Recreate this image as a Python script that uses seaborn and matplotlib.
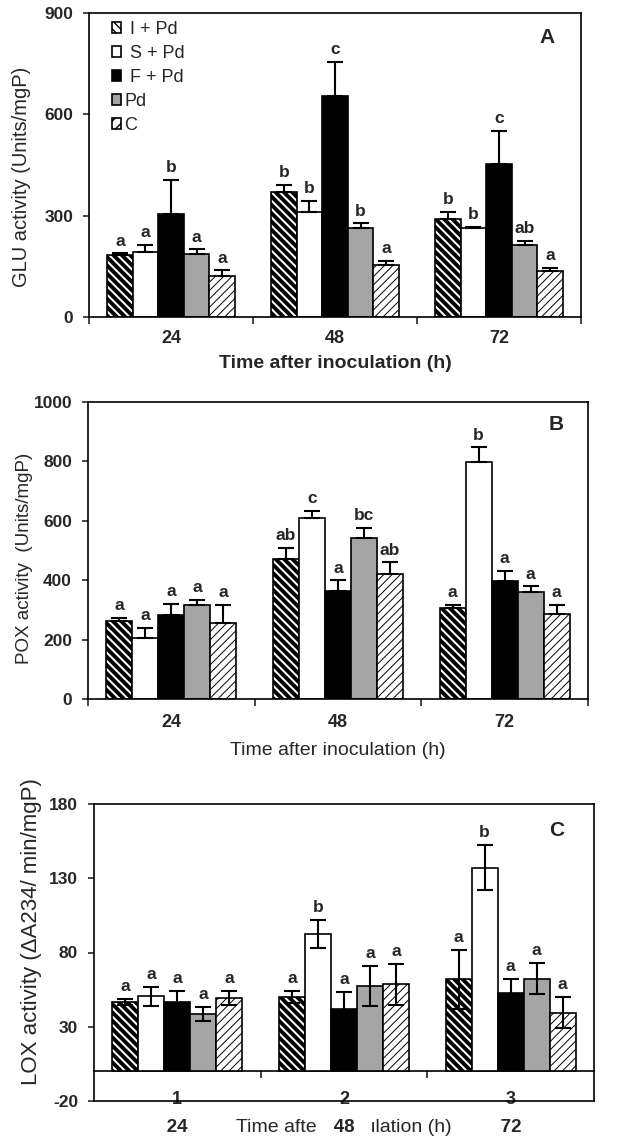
import numpy as np
import pandas as pd
import matplotlib
matplotlib.use("Agg")
import matplotlib.pyplot as plt
import matplotlib.patches as mpatches
import seaborn as sns

# data (rows = treatment, cols = time)
times = ["24", "48", "72"]
treatments = [" I + Pd", " S + Pd", " F + Pd", "Pd", "C"]

glu_means = [[183, 369, 289], [191, 310, 264], [306, 653, 453], [186, 264, 214], [121, 153, 136]]
glu_err = [[5, 22, 22], [22, 33, 3], [99, 102, 99], [14, 13, 10], [17, 14, 9]]
glu_letters = [["a", "b", "b"], ["a", "b", "b"], ["b", "c", "c"], ["a", "b", "ab"], ["a", "a", "a"]]

pox_means = [[261, 473, 307], [207, 609, 797], [284, 365, 397], [317, 542, 361], [255, 420, 285]]
pox_err = [[13, 35, 10], [31, 24, 50], [35, 34, 34], [17, 33, 18], [62, 40, 32]]
pox_letters = [["a", "ab", "a"], ["a", "c", "b"], ["a", "a", "a"], ["a", "bc", "a"], ["a", "ab", "a"]]

lox_means = [[46.7, 50, 62], [50.5, 92.7, 137.2], [46.5, 41.7, 52.5], [38.6, 57.7, 62.4], [49.4, 58.6, 39.5]]
lox_err = [[2, 4, 19.8], [6.5, 9.5, 15], [7.5, 11.5, 9.5], [5, 13.5, 10.5], [5, 13.7, 10.3]]
lox_letters = [["a", "a", "a"], ["a", "b", "b"], ["a", "a", "a"], ["a", "a", "a"], ["a", "a", "a"]]

fills = {" I + Pd": "white", " S + Pd": "white", " F + Pd": "black", "Pd": "#a5a5a5", "C": "white"}
hatches = ["\\\\\\\\", "", "", "", "////"]
hatch_lw = [2.8, 1, 1, 1, 0.7]

sns.set_style("ticks")
plt.rcParams["font.family"] = ["Liberation Sans", "DejaVu Sans"]
plt.rcParams["axes.edgecolor"] = "black"
plt.rcParams["axes.linewidth"] = 1.2
plt.rcParams["axes.unicode_minus"] = False
plt.rcParams["hatch.linewidth"] = 1.0

fig = plt.figure(figsize=(6.18, 11.43), dpi=100)


def px(l, t, r, b):
    return [l / 618, 1 - b / 1143, (r - l) / 618, (b - t) / 1143]


def draw(ax, means, errs, letters, two_sided):
    df = pd.DataFrame({
        "time": np.tile(times, len(treatments)),
        "treat": np.repeat(treatments, len(times)),
        "value": np.ravel(means),
    })
    sns.barplot(data=df, x="time", y="value", hue="treat", order=times, hue_order=treatments,
                palette=fills, saturation=1, width=0.78, gap=0, errorbar=None,
                edgecolor="black", linewidth=1.2, legend=False, ax=ax)
    bars = list(ax.containers)
    for i, cont in enumerate(bars):
        xs = [p.get_x() + p.get_width() / 2 for p in cont]
        hs = [p.get_height() for p in cont]
        for p in cont:
            p.set_hatch(hatches[i])
            if hasattr(p, "set_hatch_linewidth"):
                p.set_hatch_linewidth(hatch_lw[i])
        lower = errs[i] if two_sided else [0] * len(xs)
        ax.errorbar(xs, hs, yerr=[lower, errs[i]], fmt="none", ecolor="black",
                    elinewidth=1.5, capsize=5.5, capthick=1.5, zorder=3)
        for x, h, e, t in zip(xs, hs, errs[i], letters[i]):
            ax.annotate(t, (x, h + e), xytext=(0, 3.5), textcoords="offset points",
                        ha="center", va="bottom", fontsize=12.5, fontweight="bold")
    ax.set_xlim(-0.5, 2.5)
    ax.tick_params(axis="y", direction="out", length=4.5, width=1.2, pad=7, labelsize=12.5)


# panel A
ax_a = fig.add_axes(px(89, 13, 581, 317))
draw(ax_a, glu_means, glu_err, glu_letters, False)
ax_a.set_ylim(0, 900)
ax_a.set_yticks([0, 300, 600, 900])
ax_a.set_xticks([0, 1, 2], times, fontsize=13, fontweight="bold")
ax_a.set_xticks([-0.5, 0.5, 1.5, 2.5], minor=True)
ax_a.tick_params(axis="x", which="major", length=0, pad=9.5)
ax_a.tick_params(axis="x", which="minor", length=5, width=1.2)
for lab in ax_a.get_yticklabels():
    lab.set_fontweight("bold")
ax_a.set_xlabel("Time after inoculation (h)", fontsize=14, fontweight="bold")
ax_a.xaxis.set_label_coords(0.5, -0.125)
ax_a.set_ylabel("GLU activity (Units/mgP)", fontsize=14.5)
ax_a.yaxis.set_label_coords(-0.118, 0.46)
ax_a.text(0.931, 0.918, "A", transform=ax_a.transAxes, fontsize=15, fontweight="bold",
          ha="center", va="center")
handles = [mpatches.Patch(facecolor=fills[t], edgecolor="black", hatch=h, linewidth=1.2)
           for t, h in zip(treatments, ["\\\\\\\\", "", "", "", "///"])]
ax_a.legend(handles, treatments, loc="upper left", bbox_to_anchor=(0.032, 0.998), frameon=False,
            fontsize=13, handlelength=0.5, handleheight=0.5, handletextpad=0.2,
            labelspacing=0.39, borderaxespad=0)

# panel B
ax_b = fig.add_axes(px(88, 402, 588, 699))
draw(ax_b, pox_means, pox_err, pox_letters, False)
ax_b.set_ylim(0, 1000)
ax_b.set_yticks([0, 200, 400, 600, 800, 1000])
ax_b.set_xticks([0, 1, 2], times, fontsize=13, fontweight="bold")
ax_b.set_xticks([-0.5, 0.5, 1.5, 2.5], minor=True)
ax_b.tick_params(axis="x", which="major", length=0, pad=10.5)
ax_b.tick_params(axis="x", which="minor", length=5, width=1.2)
for lab in ax_b.get_yticklabels():
    lab.set_fontweight("bold")
ax_b.set_xlabel("Time after inoculation (h)", fontsize=14)
ax_b.xaxis.set_label_coords(0.5, -0.145)
ax_b.set_ylabel("POX activity  (Units/mgP)", fontsize=13.5)
ax_b.yaxis.set_label_coords(-0.11, 0.475)
ax_b.text(0.937, 0.923, "B", transform=ax_b.transAxes, fontsize=15, fontweight="bold",
          ha="center", va="center")

# panel C
ax_c = fig.add_axes(px(94, 804, 594, 1101))
draw(ax_c, lox_means, lox_err, lox_letters, True)
ax_c.set_ylim(-20, 180)
ax_c.set_yticks([-20, 30, 80, 130, 180])
for lab in ax_c.get_yticklabels():
    lab.set_fontweight("bold")
ax_c.set_xticks([0, 1, 2], ["1", "2", "3"], fontsize=13, fontweight="bold")
ax_c.tick_params(axis="x", which="major", length=0, pad=-7)
zero_ax = ax_c.secondary_xaxis(0.1)
zero_ax.set_xticks([0.5, 1.5], ["", ""])
zero_ax.tick_params(length=5, width=1.2)
zero_ax.spines["bottom"].set_linewidth(1.2)
ax_c.set_xlabel("Time after inoculation (h)", fontsize=14)
ax_c.xaxis.set_label_coords(0.5, -0.06)
for i, t in enumerate(times):
    ax_c.text(i, -0.06, "   " + t + "   ", transform=ax_c.get_xaxis_transform(), ha="center",
              va="top", fontsize=13.5, fontweight="bold",
              bbox=dict(facecolor="white", edgecolor="none", pad=1))
ax_c.set_ylabel("LOX activity (ΔA234/ min/mgP)", fontsize=16)
ax_c.yaxis.set_label_coords(-0.104, 0.572)
ax_c.text(0.925, 0.912, "C", transform=ax_c.transAxes, fontsize=15, fontweight="bold",
          ha="center", va="center")

fig.savefig("out.png", dpi=100)
